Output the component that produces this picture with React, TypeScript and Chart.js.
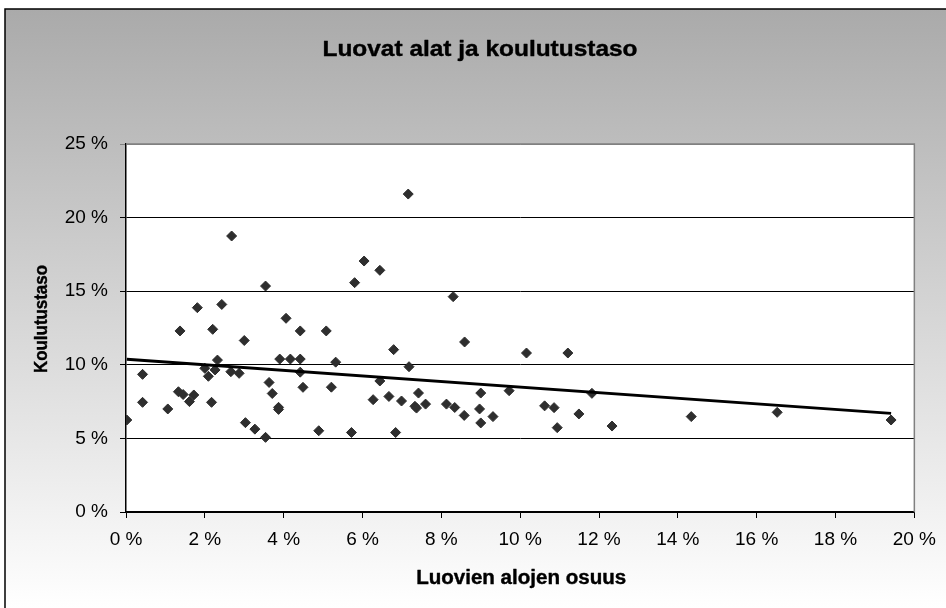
import React, { useEffect, useRef } from "react";
import { Chart, registerables } from "chart.js";

Chart.register(...registerables);

// Luovien alojen osuus (%)
const shareX: number[] = [
  0.02, 0.42, 0.42, 1.06, 1.33, 1.45, 1.61, 1.72, 1.37, 1.81,
  2.0, 2.09, 2.26, 2.32, 2.17, 2.2, 2.43, 2.68, 2.66, 2.87,
  3.0, 3.03, 3.27, 3.54, 3.54, 3.63, 3.71, 3.87, 3.87, 3.9,
  4.06, 4.17, 4.42, 4.42, 4.42, 4.49, 4.89, 5.08, 5.21, 5.32,
  5.72, 5.8, 6.04, 6.27, 6.44, 6.44, 6.67, 6.79, 6.84, 6.99,
  7.16, 7.18, 7.33, 7.37, 7.42, 7.6, 8.13, 8.3, 8.34, 8.58,
  8.59, 9.0, 8.97, 9.0, 9.31, 9.72, 10.16, 10.62, 10.86, 10.94,
  11.21, 11.49, 11.82, 12.33, 14.34, 16.52, 19.41,
];
// Koulutustaso (%)
const eduY: number[] = [
  6.25, 9.35, 7.45, 7.0, 8.17, 7.98, 7.5, 7.95, 12.3, 13.88,
  9.76, 9.22, 9.65, 10.32, 7.45, 12.41, 14.1, 18.75, 9.53, 9.42,
  11.65, 6.07, 5.63, 5.07, 15.35, 8.8, 8.05, 7.11, 6.97, 10.39,
  13.16, 10.39, 10.39, 12.3, 9.5, 8.47, 5.52, 12.3, 8.48, 10.18,
  5.4, 15.58, 17.05, 7.63, 8.9, 16.42, 7.85, 11.03, 5.4, 7.54,
  21.6, 9.87, 7.18, 7.06, 8.08, 7.33, 7.33, 14.63, 7.1, 6.56,
  11.55, 8.08, 7.0, 6.05, 6.48, 8.24, 10.8, 7.21, 7.09, 5.73,
  10.8, 6.66, 8.06, 5.84, 6.48, 6.77, 6.25,
];
// Lineaarinen trendiviiva (luettu kuvasta)
const trendX: number[] = [0.02, 19.41];
const trendY: number[] = [10.37, 6.7];

const TITLE = "Luovat alat ja koulutustaso";
const X_TITLE = "Luovien alojen osuus";
const Y_TITLE = "Koulutustaso";

const X_MIN = 0, X_MAX = 20, X_STEP = 2;
const Y_MIN = 0, Y_MAX = 25, Y_STEP = 5;

const FONT_FAMILY = "'Liberation Sans', Arial, Helvetica, sans-serif";

function stretchText(
  ctx: CanvasRenderingContext2D,
  text: string,
  font: string,
  cx: number,
  baseline: number,
  targetW: number,
  rotate: boolean
) {
  ctx.save();
  ctx.font = font;
  ctx.fillStyle = "#000";
  ctx.strokeStyle = "#000";
  ctx.lineWidth = 0.4;
  ctx.lineJoin = "round";
  ctx.textAlign = "center";
  ctx.textBaseline = "alphabetic";
  const w = ctx.measureText(text).width;
  const sx = targetW / w;
  if (rotate) {
    ctx.translate(baseline, cx);
    ctx.rotate(-Math.PI / 2);
  } else {
    ctx.translate(cx, baseline);
  }
  ctx.scale(sx, 1);
  ctx.fillText(text, 0, 0);
  ctx.strokeText(text, 0, 0);
  ctx.restore();
}

const framePlugin = {
  id: "excelFrame",
  beforeDraw(chart: any) {
    const { ctx, width, height, chartArea: a } = chart;
    ctx.save();
    ctx.fillStyle = "#ffffff";
    ctx.fillRect(0, 0, width, height);
    const g = ctx.createLinearGradient(0, 9, 0, height);
    g.addColorStop(0, "#aaaaaa");
    g.addColorStop(1, "#ffffff");
    ctx.fillStyle = g;
    ctx.fillRect(5, 9, width - 5, height - 9);
    ctx.strokeStyle = "#000";
    ctx.lineWidth = 1.5;
    ctx.beginPath();
    ctx.moveTo(5, height);
    ctx.lineTo(5, 9);
    ctx.lineTo(width, 9);
    ctx.stroke();
    ctx.fillStyle = "#ffffff";
    ctx.fillRect(a.left, a.top, a.right - a.left, a.bottom - a.top);
    ctx.restore();
  },
  afterDraw(chart: any) {
    const { ctx, chartArea: a } = chart;
    ctx.save();
    ctx.strokeStyle = "#808080";
    ctx.lineWidth = 1.5;
    ctx.beginPath();
    ctx.moveTo(a.left, a.top);
    ctx.lineTo(a.right, a.top);
    ctx.lineTo(a.right, a.bottom);
    ctx.stroke();
    ctx.restore();
    stretchText(ctx, TITLE, `bold 22px ${FONT_FAMILY}`, 480, 56, 315, false);
    stretchText(ctx, X_TITLE, `bold 20px ${FONT_FAMILY}`, (a.left + a.right) / 2 + 1, 584, 210, false);
    stretchText(ctx, Y_TITLE, `bold 18px ${FONT_FAMILY}`, 319, 47, 108, true);
  },
};

export default function App() {
  const ref = useRef<HTMLCanvasElement | null>(null);

  useEffect(() => {
    if (!ref.current) return;
    const points = shareX.map((x, i) => ({ x, y: eduY[i] }));
    const trend = trendX.map((x, i) => ({ x, y: trendY[i] }));
    const tickFont = { family: FONT_FAMILY, size: 19 };
    const chart = new Chart(ref.current, {
      type: "scatter",
      data: {
        datasets: [
          {
            label: "Trendi",
            data: trend,
            showLine: true,
            borderColor: "#000",
            borderWidth: 3,
            pointRadius: 0,
            fill: false,
            order: 0,
          } as any,
          {
            label: "Koulutustaso",
            data: points,
            pointStyle: "rectRot",
            pointRadius: 5,
            pointBackgroundColor: "#2e2e2e",
            pointBorderColor: "#2e2e2e",
            pointBorderWidth: 1,
            showLine: false,
            order: 1,
          } as any,
        ],
      },
      options: {
        responsive: false,
        animation: false,
        layout: { padding: { top: 144, right: 31, left: 0, bottom: 0 } },
        plugins: {
          legend: { display: false },
          tooltip: { enabled: false },
          title: { display: false },
        },
        scales: {
          x: {
            type: "linear",
            min: X_MIN,
            max: X_MAX,
            afterFit: (s: any) => {
              s.height = 96;
            },
            ticks: {
              stepSize: X_STEP,
              color: "#000",
              font: tickFont,
              padding: 10,
              maxRotation: 0,
              callback: (v: any) => `${v} %`,
            },
            grid: {
              display: true,
              drawOnChartArea: false,
              drawTicks: true,
              tickLength: 6,
              color: "#000",
            },
            border: { color: "#000", width: 1.5 },
          },
          y: {
            type: "linear",
            min: Y_MIN,
            max: Y_MAX,
            afterFit: (s: any) => {
              s.width = 126;
            },
            ticks: {
              stepSize: Y_STEP,
              color: "#000",
              font: tickFont,
              padding: 12,
              callback: (v: any) => `${v} %`,
            },
            grid: {
              color: (c: any) => (c.tick && c.tick.value === Y_MAX ? "#808080" : "#000"),
              lineWidth: 1,
              drawTicks: true,
              tickLength: 6,
            },
            border: { color: "#000", width: 1.5 },
          },
        },
      },
      plugins: [framePlugin],
    });
    return () => chart.destroy();
  }, []);

  return (
    <div style={{ position: "fixed", left: 0, top: 0, width: 946, height: 608 }}>
      <canvas ref={ref} width={946} height={608} style={{ display: "block" }} />
    </div>
  );
}
